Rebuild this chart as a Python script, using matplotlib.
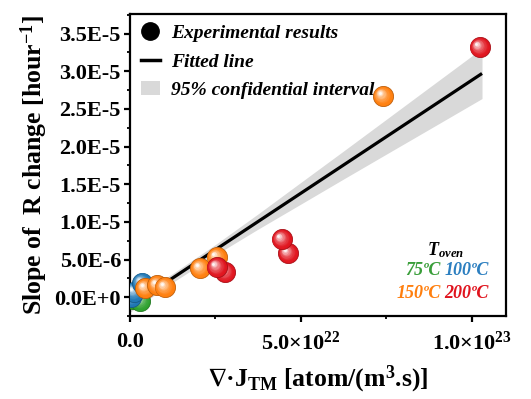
import numpy as np
import matplotlib
matplotlib.use("Agg")
import matplotlib.pyplot as plt
from matplotlib.lines import Line2D
from matplotlib.patches import Patch
from matplotlib.transforms import ScaledTranslation
from matplotlib.colors import to_rgb

plt.rcParams['font.family'] = ['Liberation Serif', 'DejaVu Serif']
plt.rcParams['font.weight'] = 'bold'
plt.rcParams['mathtext.default'] = 'regular'

# Measured slopes of resistance change vs. divergence of atomic flux
x_75C = [0.10e22, 0.30e22]
y_75C = [-0.3e-6, -0.5e-6]
x_100C = [0.02e22, 0.12e22, 0.35e22]
y_100C = [0.05e-6, 0.7e-6, 1.9e-6]
x_150C = [0.44e22, 0.79e22, 1.02e22, 2.05e22, 2.54e22, 7.40e22]
y_150C = [1.2e-6, 1.6e-6, 1.33e-6, 3.86e-6, 5.3e-6, 26.7e-6]
x_200C = [2.78e22, 2.54e22, 4.62e22, 4.44e22, 10.23e22]
y_200C = [3.3e-6, 4.0e-6, 5.85e-6, 7.7e-6, 33.2e-6]

# Linear fit and its 95% confidence band
fit_x = [0.0, 1.03e23]
fit_y = [-1.2e-6, 29.7e-6]
band_x = [0.0, 1.25e22, 2.5e22, 3.75e22, 5.0e22, 6.25e22, 7.5e22, 8.75e22, 10.3e22]
band_lo = [-2.0e-6, 1.96e-6, 5.61e-6, 9.04e-6, 12.36e-6, 15.69e-6, 18.99e-6, 22.28e-6, 26.37e-6]
band_hi = [-0.4e-6, 3.14e-6, 6.99e-6, 11.06e-6, 15.24e-6, 19.41e-6, 23.61e-6, 27.82e-6, 33.03e-6]

x_ticks = [0.0, 5.0e22, 1.0e23]
x_tick_labels = ['0.0', r'5.0$\times$10$^{22}$', r'1.0$\times$10$^{23}$']
y_ticks = [0.0, 5e-6, 1e-5, 1.5e-5, 2e-5, 2.5e-5, 3e-5, 3.5e-5]
y_tick_labels = ['0.0E+0', '5.0E-6', '1.0E-5', '1.5E-5', '2.0E-5', '2.5E-5', '3.0E-5', '3.5E-5']

temp_labels = ['75ºC', '100ºC', '150ºC', '200ºC']
temp_colors = ['#3a9e3a', '#2c7fc0', '#ff7f0e', '#e0141e']
marker_colors = ['#2ca02c', '#1f77b4', '#ff7f0e', '#e0141e']

fig = plt.figure(figsize=(5.31, 3.99), dpi=100)
ax = fig.add_axes([0.2448, 0.208, 0.708, 0.757])

ax.fill_between(band_x, band_lo, band_hi, color='#d9d9d9', lw=0, zorder=1)
ax.plot(fit_x, fit_y, color='black', lw=2.3, zorder=2, solid_capstyle='butt')


def glossy(xs, ys, color, size=210, z=3):
    base = np.array(to_rgb(color))
    dark = base * 0.75
    r = np.sqrt(size) / 2.0  # radius in points
    n = 9
    for xv, yv in zip(xs, ys):
        ax.scatter([xv], [yv], s=size, color=base, edgecolors=dark,
                   linewidths=0.6, zorder=z)
        for i in range(1, n + 1):
            t = i / n
            c = base + (1 - base) * (t ** 1.8) * 0.95
            s = size * (1 - 0.86 * t) ** 2
            off = r * 0.33 * t
            tr = ax.transData + ScaledTranslation(-off / 72, off / 72,
                                                   fig.dpi_scale_trans)
            ax.scatter([xv], [yv], s=s, color=c, lw=0, zorder=z, transform=tr)
        z += 0.01
    return z


zz = 3
for xs, ys, col in zip([x_75C, x_100C, x_150C, x_200C],
                       [y_75C, y_100C, y_150C, y_200C], marker_colors):
    zz = glossy(xs, ys, col, z=zz)

ax.set_xlim(0, 1.1e23)
ax.set_ylim(-2.5e-6, 3.76e-5)
ax.set_xticks(x_ticks, labels=x_tick_labels)
ax.set_xticks([2.5e22, 7.5e22], minor=True)
ax.set_yticks(y_ticks, labels=y_tick_labels)
ax.set_yticks(np.arange(-2.5e-6, 3.76e-5, 5e-6), minor=True)

for sp in ax.spines.values():
    sp.set_linewidth(1.6)
ax.tick_params(which='major', direction='out', length=4.5, width=1.6,
               labelsize=16, pad=2)
ax.tick_params(axis='x', which='major', pad=7)
ax.tick_params(which='minor', direction='out', length=2.5, width=1.3)
for lab in ax.get_xticklabels() + ax.get_yticklabels():
    lab.set_fontweight('bold')

ax.set_ylabel('Slope of  R change [hour$^{-1}$]', fontsize=18.5,
              fontweight='bold', labelpad=3)
ax.set_xlabel(r'$\nabla$·J$_{TM}$ [atom/(m$^{3}$.s)]', fontsize=18.5,
              fontweight='bold', labelpad=6)

handles = [
    Line2D([], [], marker='o', color='black', ls='none', markersize=12.5),
    Line2D([], [], color='black', lw=2.5),
    Patch(facecolor='#d9d9d9', edgecolor='none'),
]
leg = ax.legend(handles, ['Experimental results', 'Fitted line',
                          '95% confidential interval'],
                loc='upper left', frameon=False, handlelength=1.0,
                handletextpad=0.55, labelspacing=0.55, borderaxespad=0.15,
                prop={'family': ['Liberation Serif', 'DejaVu Serif'],
                      'weight': 'bold', 'style': 'italic', 'size': 14})

tkw = dict(transform=ax.transAxes, fontsize=13, fontweight='bold',
           fontstyle='italic', va='center')
ax.text(0.84, 0.218, r'T$_{oven}$', ha='center', color='black', **tkw)
ax.text(0.826, 0.152, temp_labels[0], ha='right', color=temp_colors[0], **tkw)
ax.text(0.836, 0.152, temp_labels[1], ha='left', color=temp_colors[1], **tkw)
ax.text(0.826, 0.076, temp_labels[2], ha='right', color=temp_colors[2], **tkw)
ax.text(0.836, 0.076, temp_labels[3], ha='left', color=temp_colors[3], **tkw)

fig.savefig('out.png', dpi=100)
